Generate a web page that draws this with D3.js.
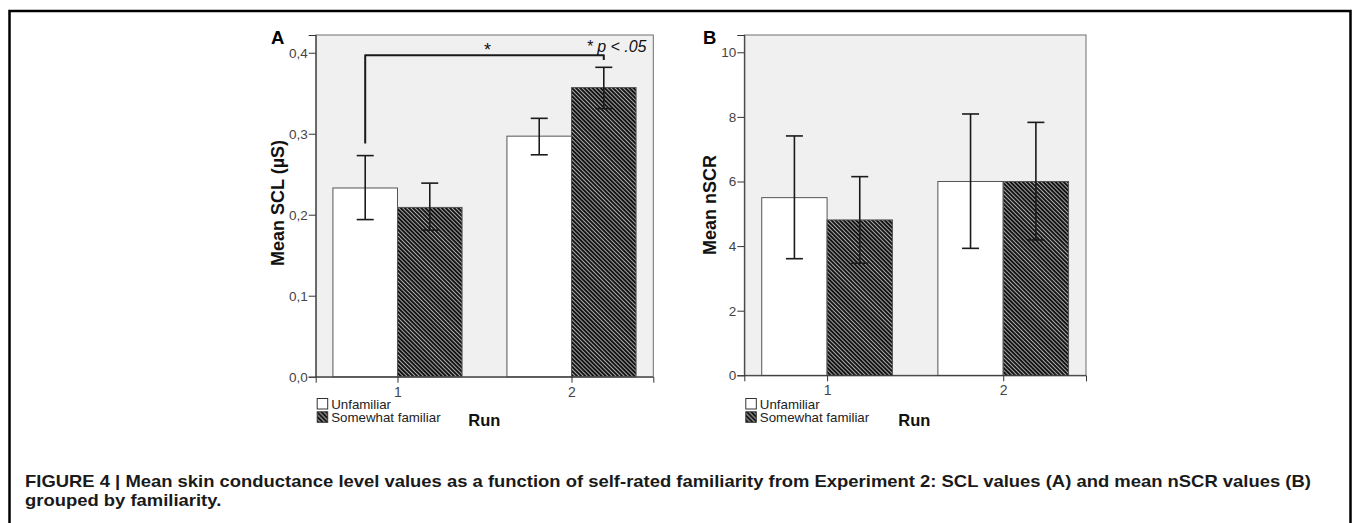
<!DOCTYPE html>
<html><head><meta charset="utf-8">
<script src="https://cdn.jsdelivr.net/npm/d3@7"></script>
<style>
html,body{margin:0;padding:0;background:#fff;}
svg{display:block;font-family:"Liberation Sans",Arial,sans-serif;}
</style></head>
<body>
<svg id="chart" width="1357" height="523"></svg>
<script>
// ---------- data ----------
const runs = ["1", "2"];
const groups = ["Unfamiliar", "Somewhat familiar"];

const sclUnfamiliar = [0.233, 0.297];
const sclUnfamiliarCI = [[0.194, 0.273], [0.274, 0.319]];
const sclSomewhat = [0.209, 0.357];
const sclSomewhatCI = [[0.181, 0.239], [0.331, 0.382]];
const sclTicks = [0, 0.1, 0.2, 0.3, 0.4];
const sclTickLabels = ["0,0", "0,1", "0,2", "0,3", "0,4"];

const nscrUnfamiliar = [5.50, 6.00];
const nscrUnfamiliarCI = [[3.61, 7.41], [3.93, 8.09]];
const nscrSomewhat = [4.81, 6.00];
const nscrSomewhatCI = [[3.47, 6.15], [4.19, 7.83]];
const nscrTicks = [0, 2, 4, 6, 8, 10];
const nscrTickLabels = ["0", "2", "4", "6", "8", "10"];

// significance bracket in panel A (value units)
const bracketTop = 0.397;
const bracketLegs = [0.288, 0.391];

const captionLines = [
  "FIGURE 4 | Mean skin conductance level values as a function of self-rated familiarity from Experiment 2: SCL values (A) and mean nSCR values (B)",
  "grouped by familiarity."
];

// ---------- drawing ----------
const svg = d3.select("#chart");
const defs = svg.append("defs");

function hatch(id, size, lw) {
  const p = defs.append("pattern").attr("id", id)
    .attr("patternUnits", "userSpaceOnUse")
    .attr("width", size).attr("height", 10)
    .attr("patternTransform", "rotate(-45)");
  p.append("rect").attr("width", size).attr("height", 10).attr("fill", "#141414");
  p.append("line").attr("x1", size / 2).attr("x2", size / 2).attr("y1", 0).attr("y2", 10)
    .attr("stroke", "#a8a8a8").attr("stroke-width", lw);
}
hatch("hatchBar", 2.9, 1.0);
hatch("hatchLeg", 3.2, 1.1);

// outer frame
svg.append("path").attr("d", "M9.5,540 V11 H1350.5 V540")
  .attr("fill", "none").attr("stroke", "#000").attr("stroke-width", 2.5);

function panel(cfg) {
  const g = svg.append("g");
  const x = d3.scalePoint().domain(runs).range([cfg.left, cfg.right]).padding(0.47);
  const y = d3.scaleLinear().domain(cfg.domain).range([cfg.bottom, cfg.top]);
  const bw = x.step() * 0.371;

  g.append("rect").attr("x", cfg.left).attr("y", cfg.top)
    .attr("width", cfg.right - cfg.left).attr("height", cfg.bottom - cfg.top)
    .attr("fill", "#f0f0f0").attr("stroke", "#6e6e6e").attr("stroke-width", 1);

  const series = [
    {vals: cfg.s1, ci: cfg.c1, off: -1, fill: "#ffffff"},
    {vals: cfg.s2, ci: cfg.c2, off: 0, fill: "url(#hatchBar)"}
  ];
  series.forEach(s => {
    g.selectAll(null).data(runs).enter().append("rect")
      .attr("x", d => x(d) + s.off * bw)
      .attr("y", (d, i) => y(s.vals[i]))
      .attr("width", bw)
      .attr("height", (d, i) => y(0) - y(s.vals[i]))
      .attr("fill", s.fill)
      .attr("stroke", "#555").attr("stroke-width", 1);
  });
  series.forEach(s => {
    runs.forEach((d, i) => {
      const cx = x(d) + s.off * bw + bw / 2;
      const [lo, hi] = s.ci[i];
      const eg = g.append("g").attr("stroke", "#1a1a1a").attr("stroke-width", 1.6).attr("fill", "none");
      eg.append("line").attr("x1", cx).attr("x2", cx).attr("y1", y(lo)).attr("y2", y(hi));
      eg.append("line").attr("x1", cx - 8.5).attr("x2", cx + 8.5).attr("y1", y(lo)).attr("y2", y(lo));
      eg.append("line").attr("x1", cx - 8.5).attr("x2", cx + 8.5).attr("y1", y(hi)).attr("y2", y(hi));
    });
  });

  const ya = d3.axisLeft(y).tickValues(cfg.ticks).tickSize(7).tickPadding(1)
    .tickFormat((d, i) => cfg.tickLabels[i]);
  const yg = g.append("g").attr("transform", `translate(${cfg.left},0)`).call(ya);
  yg.select(".domain").attr("stroke", "#333");
  yg.selectAll(".tick line").attr("stroke", "#333");
  yg.selectAll(".tick text").attr("fill", "#444").style("font-size", "13.5px")
    .style("font-family", "'Liberation Sans',Arial,sans-serif");

  const xa = d3.axisBottom(x).tickSize(6).tickPadding(4);
  const xg = g.append("g").attr("transform", `translate(0,${cfg.bottom})`).call(xa);
  xg.select(".domain").attr("stroke", "#333");
  xg.selectAll(".tick line").attr("stroke", "#333");
  xg.selectAll(".tick text").attr("fill", "#444").style("font-size", "14px")
    .style("font-family", "'Liberation Sans',Arial,sans-serif");

  g.append("text").attr("transform", `translate(${cfg.ytX},${cfg.ytY}) rotate(-90)`)
    .attr("text-anchor", "middle").attr("font-weight", "bold").attr("font-size", 18)
    .attr("fill", "#111").text(cfg.ytitle);

  g.append("text").attr("x", cfg.letterX).attr("y", 44).attr("font-weight", "bold")
    .attr("font-size", 18.5).attr("fill", "#000").text(cfg.letter);

  const lx = cfg.left + 1;
  [0, 1].forEach(k => {
    g.append("rect").attr("x", lx + 0.5).attr("y", 398.5 + k * 13.3).attr("width", 10.5).attr("height", 10.5)
      .attr("fill", k === 0 ? "#fff" : "url(#hatchLeg)").attr("stroke", "#333").attr("stroke-width", 1);
    g.append("text").attr("x", lx + 14.5).attr("y", 408.8 + k * 13.3).attr("font-size", 13.3)
      .attr("fill", "#222").text(groups[k]);
  });
  g.append("text").attr("x", cfg.left + cfg.runDx).attr("y", 425.5).attr("font-weight", "bold")
    .attr("font-size", 16.5).attr("fill", "#111").text("Run");

  return {x, y, bw, g};
}

const A = panel({
  left: 315.7, right: 653.3, top: 35, bottom: 376.7, domain: [0, 0.4219],
  s1: sclUnfamiliar, c1: sclUnfamiliarCI, s2: sclSomewhat, c2: sclSomewhatCI,
  ticks: sclTicks, tickLabels: sclTickLabels,
  ytitle: "Mean SCL (µS)", ytX: 284, ytY: 203, letter: "A", letterX: 271, runDx: 152.6
});
const B = panel({
  left: 744.3, right: 1086, top: 35, bottom: 375.3, domain: [0, 10.535],
  s1: nscrUnfamiliar, c1: nscrUnfamiliarCI, s2: nscrSomewhat, c2: nscrSomewhatCI,
  ticks: nscrTicks, tickLabels: nscrTickLabels,
  ytitle: "Mean nSCR", ytX: 716, ytY: 205, letter: "B", letterX: 703, runDx: 154
});

// significance bracket (panel A)
{
  const xL = A.x(runs[0]) - A.bw / 2;
  const xR = A.x(runs[1]) + A.bw / 2;
  const yT = A.y(bracketTop);
  const path = d3.path();
  path.moveTo(xL, A.y(bracketLegs[0]));
  path.lineTo(xL, yT);
  path.lineTo(xR, yT);
  path.lineTo(xR, A.y(bracketLegs[1]));
  A.g.append("path").attr("d", path.toString()).attr("fill", "none")
    .attr("stroke", "#1a1a1a").attr("stroke-width", 2).attr("stroke-linejoin", "round");
  A.g.append("text").attr("x", (xL + xR) / 2 + 3).attr("y", 56).attr("text-anchor", "middle")
    .attr("font-size", 18).attr("fill", "#111").text("*");
  A.g.append("text").attr("x", 646.5).attr("y", 51.7).attr("text-anchor", "end")
    .attr("font-size", 16).attr("font-style", "italic").attr("fill", "#111").text("* p < .05");
}

// caption (stretched horizontally to the printed line width)
{
  const cg = svg.append("g");
  const texts = cg.selectAll(".cap").data(captionLines).enter().append("text")
    .attr("class", "cap").attr("x", 0).attr("y", (d, i) => 487 + i * 19.5)
    .attr("font-weight", "bold").attr("font-size", 16).attr("fill", "#1a1a1a")
    .text(d => d);
  const w = texts.nodes()[0].getComputedTextLength();
  const sx = 1287 / w;
  cg.attr("transform", `translate(25,0) scale(${sx},1)`);
}
</script>
</body></html>
